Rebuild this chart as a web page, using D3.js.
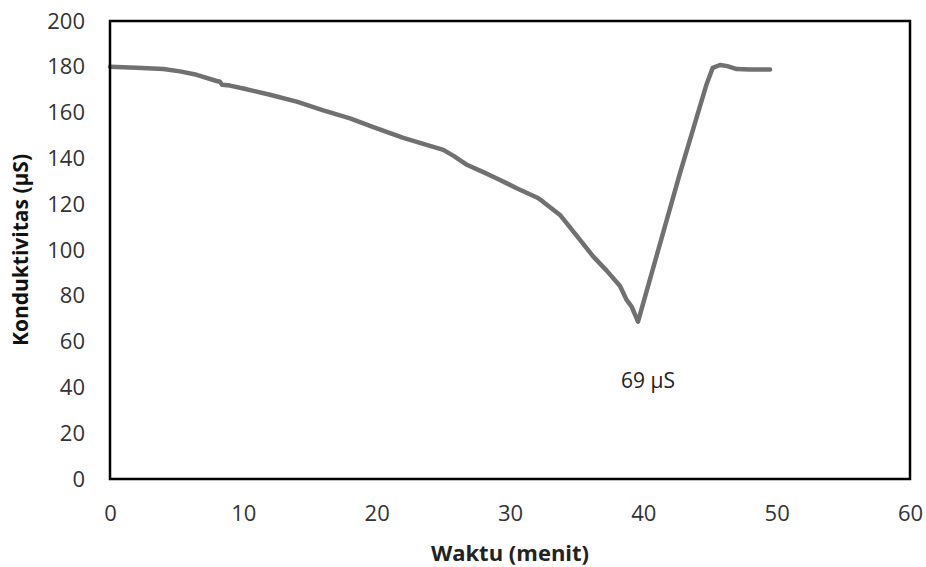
<!DOCTYPE html>
<html>
<head>
<meta charset="utf-8">
<script src="https://cdn.jsdelivr.net/npm/d3@7"></script>
<style>
  html, body { margin: 0; padding: 0; background: #fff; }
  svg { display: block; }
  .tick text { font-family: "Open Sans", "Noto Sans", sans-serif; font-size: 22px; fill: #333; }
</style>
</head>
<body>
<svg id="chart" width="926" height="567"></svg>
<script>
// Data
const timeMin = [0, 2, 4, 5.25, 6.5, 8.0, 8.25, 8.4, 9, 10, 12, 14, 16, 18, 19.7, 22, 24, 25, 25.8, 26.8, 28, 29.25, 30.5, 32.1, 32.5, 33.75, 35.25, 36.25, 37.25, 38.25, 38.75, 39.13, 39.6, 42.75, 44.75, 45.2, 45.75, 46.3, 47, 48, 49.5];
const conductivity = [180, 179.6, 179, 178, 176.5, 173.8, 173.5, 172.2, 171.8, 170.5, 167.8, 164.8, 161, 157.5, 153.8, 149, 145.5, 143.7, 141, 137.1, 134, 130.6, 127, 122.7, 121, 115.3, 104.4, 97.1, 91, 84.3, 78.2, 75.2, 68.7, 133.6, 172.5, 179.5, 180.8, 180.3, 179, 178.8, 178.8];
const xTicks = [0, 10, 20, 30, 40, 50, 60];
const yTicks = [0, 20, 40, 60, 80, 100, 120, 140, 160, 180, 200];
const minLabel = { t: 39.6, v: 69, text: "69 µS" };
const xTitle = "Waktu (menit)";
const yTitle = "Konduktivitas (µS)";

const W = 926, H = 567;
const m = { left: 110, right: 16, top: 21, bottom: 88 };
const iw = W - m.left - m.right, ih = H - m.top - m.bottom;

const svg = d3.select("#chart");
const g = svg.append("g").attr("transform", `translate(${m.left},${m.top})`);

const x = d3.scaleLinear().domain([0, 60]).range([0, iw]);
const y = d3.scaleLinear().domain([0, 200]).range([ih, 0]);

const xAxis = g.append("g").attr("transform", `translate(0,${ih})`)
  .call(d3.axisBottom(x).tickValues(xTicks).tickSize(0).tickPadding(26));
xAxis.select(".domain").remove();

const yAxis = g.append("g")
  .call(d3.axisLeft(y).tickValues(yTicks).tickSize(0).tickPadding(25));
yAxis.select(".domain").remove();

// data line
const data = timeMin.map((t, i) => ({ t, v: conductivity[i] }));
g.append("path")
  .datum(data)
  .attr("fill", "none")
  .attr("stroke", "#707070")
  .attr("stroke-width", 4.5)
  .attr("stroke-linejoin", "round")
  .attr("stroke-linecap", "round")
  .attr("d", d3.line().x(d => x(d.t)).y(d => y(d.v)).curve(d3.curveLinear));

// frame
g.append("rect")
  .attr("x", 0).attr("y", 0).attr("width", iw).attr("height", ih)
  .attr("fill", "none").attr("stroke", "#000").attr("stroke-width", 2.5);

// annotation
g.append("text")
  .attr("x", x(minLabel.t) + 10)
  .attr("y", y(minLabel.v) + 67)
  .attr("text-anchor", "middle")
  .style("font-family", "'Open Sans', 'Noto Sans', sans-serif")
  .style("font-size", "21px")
  .style("fill", "#222")
  .text(minLabel.text);

// axis titles
svg.append("text")
  .attr("x", m.left + iw / 2)
  .attr("y", 561)
  .attr("text-anchor", "middle")
  .style("font-family", "'Open Sans', 'Noto Sans', sans-serif")
  .style("font-weight", "bold")
  .style("font-size", "22px")
  .style("fill", "#222")
  .text(xTitle);

svg.append("text")
  .attr("transform", `translate(28,${m.top + ih / 2}) rotate(-90)`)
  .attr("text-anchor", "middle")
  .style("font-family", "'Open Sans', 'Noto Sans', sans-serif")
  .style("font-weight", "bold")
  .style("font-size", "21px")
  .style("fill", "#111")
  .text(yTitle);
</script>
</body>
</html>
